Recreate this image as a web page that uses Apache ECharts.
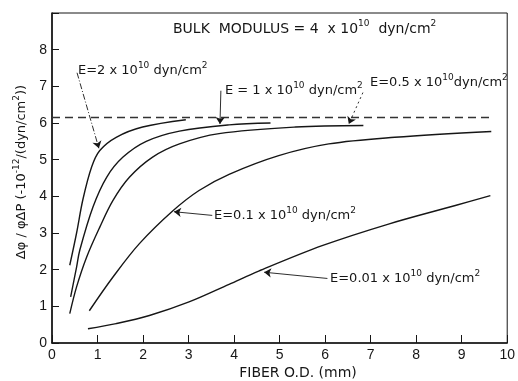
<!DOCTYPE html>
<html>
<head>
<meta charset="utf-8">
<script src="https://cdn.jsdelivr.net/npm/echarts@6/dist/echarts.min.js"></script>
<style>
  html, body { margin: 0; padding: 0; background: #fff; }
  #chart { width: 518px; height: 381px; }
</style>
</head>
<body>
<div id="chart"></div>
<script>
// curves: [fiber OD (mm), response]
const curveE2 = [[0.39, 2.12], [0.54, 3.0], [0.68, 3.92], [0.87, 4.8], [1.05, 5.25], [1.41, 5.61], [1.99, 5.89], [2.94, 6.09]];
const curveE1 = [[0.41, 1.26], [0.54, 2.07], [0.61, 2.53], [0.9, 3.71], [1.2, 4.52], [1.56, 5.07], [2.07, 5.5], [2.8, 5.78], [3.89, 5.95], [4.8, 6.0]];
const curveE05 = [[0.39, 0.8], [0.54, 1.53], [0.76, 2.34], [1.05, 3.16], [1.34, 3.89], [1.7, 4.52], [2.21, 5.07], [2.8, 5.43], [3.67, 5.71], [5.35, 5.89], [6.84, 5.93]];
const curveE01 = [[0.82, 0.88], [1.34, 1.8], [1.92, 2.71], [2.65, 3.6], [3.23, 4.16], [3.89, 4.6], [4.98, 5.11], [6.08, 5.43], [7.53, 5.61], [9.65, 5.77]];
const curveE001 = [[0.79, 0.39], [1.41, 0.53], [2.14, 0.75], [3.01, 1.12], [3.89, 1.6], [4.54, 1.96], [5.95, 2.66], [7.41, 3.25], [8.86, 3.75], [9.63, 4.02]];
const limitLine = [[0, 6.15], [9.65, 6.15]];
const yTicks = [0, 1, 2, 3, 4, 5, 6, 7, 8];

// leader lines from the labels to the curves: [from, to, dash, curveness]
const leaders = [
  [[0.55, 7.37], [1.03, 5.31], [6, 2, 1, 2], -0.25],
  [[3.71, 6.88], [3.69, 5.97], 'solid', 0.05],
  [[6.83, 6.83], [6.52, 5.97], [2, 3], 0.05],
  [[3.52, 3.48], [2.68, 3.58], 'solid', 0],
  [[6.05, 1.76], [4.66, 1.93], 'solid', -0.15]
];

const ink = '#161616';
const font = 'DejaVu Sans, Liberation Sans, sans-serif';
const tickFont = 'Liberation Sans, Arial, sans-serif';
const sup = { s: { fontSize: 9, fontFamily: font, fill: ink, padding: [0, 0, 10, 0] } };

const chart = echarts.init(document.getElementById('chart'));

const curveSeries = (data) => ({
  type: 'line',
  data: data,
  smooth: 0.35,
  showSymbol: false,
  symbol: 'none',
  lineStyle: { color: ink, width: 1.4 },
  silent: true
});

const label = (text, x, y, size, extra) => Object.assign({
  type: 'text',
  x: x,
  y: y,
  silent: true,
  style: {
    text: text,
    fontSize: size,
    fontFamily: font,
    fill: ink,
    align: 'left',
    verticalAlign: 'middle',
    rich: sup
  }
}, extra || {});

chart.setOption({
  animation: false,
  backgroundColor: '#fff',
  grid: {
    left: 52, right: 8, top: 13, bottom: 38,
    show: true, borderColor: ink, borderWidth: 1
  },
  xAxis: {
    type: 'value',
    min: 0, max: 10, interval: 1,
    axisLine: { lineStyle: { color: ink, width: 1.6 } },
    axisTick: { inside: true, length: 8, lineStyle: { color: ink } },
    axisLabel: { color: ink, fontSize: 14, fontFamily: tickFont, margin: 5 },
    splitLine: { show: false }
  },
  yAxis: {
    type: 'value',
    min: 0, max: 9, interval: 1,
    axisLine: { show: true, lineStyle: { color: ink, width: 1.6 } },
    axisTick: { show: true, inside: true, length: 7, lineStyle: { color: ink } },
    axisLabel: {
      color: ink, fontSize: 14, fontFamily: tickFont, margin: 5,
      formatter: (v) => (yTicks.indexOf(v) >= 0 ? String(v) : '')
    },
    splitLine: { show: false }
  },
  series: [
    curveSeries(curveE2),
    curveSeries(curveE1),
    curveSeries(curveE05),
    curveSeries(curveE01),
    curveSeries(curveE001),
    {
      type: 'line',
      data: limitLine,
      showSymbol: false,
      symbol: 'none',
      silent: true,
      lineStyle: { color: '#333', width: 1.3, type: [8, 5] }
    },
    {
      type: 'line',
      data: [],
      silent: true,
      markLine: {
        silent: true,
        animation: false,
        symbol: ['none', 'arrow'],
        symbolSize: 7,
        label: { show: false },
        emphasis: { disabled: true },
        itemStyle: { color: ink },
        data: leaders.map((d) => [
          { coord: d[0], lineStyle: { color: ink, width: 0.9, type: d[2], curveness: d[3] } },
          { coord: d[1] }
        ])
      }
    }
  ],
  graphic: [
    label('BULK  MODULUS = 4  x 10{s|10}  dyn/cm{s|2}', 173, 29, 14),
    label('E=2 x 10{s|10} dyn/cm{s|2}', 78, 71, 13),
    label('E = 1 x 10{s|10} dyn/cm{s|2}', 225, 91, 13),
    label('E=0.5 x 10{s|10}dyn/cm{s|2}', 370, 83, 13),
    label('E=0.1 x 10{s|10} dyn/cm{s|2}', 214, 216, 13),
    label('E=0.01 x 10{s|10} dyn/cm{s|2}', 330, 279, 13),
    label('FIBER O.D. (mm)', 298, 373, 14),
    label('Δφ / φΔP (-10{s|-12}/(dyn/cm{s|2}))', 22, 172, 13, { rotation: Math.PI / 2 })
  ]
});

// center the two axis titles
const opt = chart.getOption();
opt.graphic[0].elements.forEach((el) => {
  if (el.style && (el.style.text === 'FIBER O.D. (mm)' || el.rotation)) {
    el.style.align = 'center';
  }
});
chart.setOption({ graphic: opt.graphic });
</script>
</body>
</html>
